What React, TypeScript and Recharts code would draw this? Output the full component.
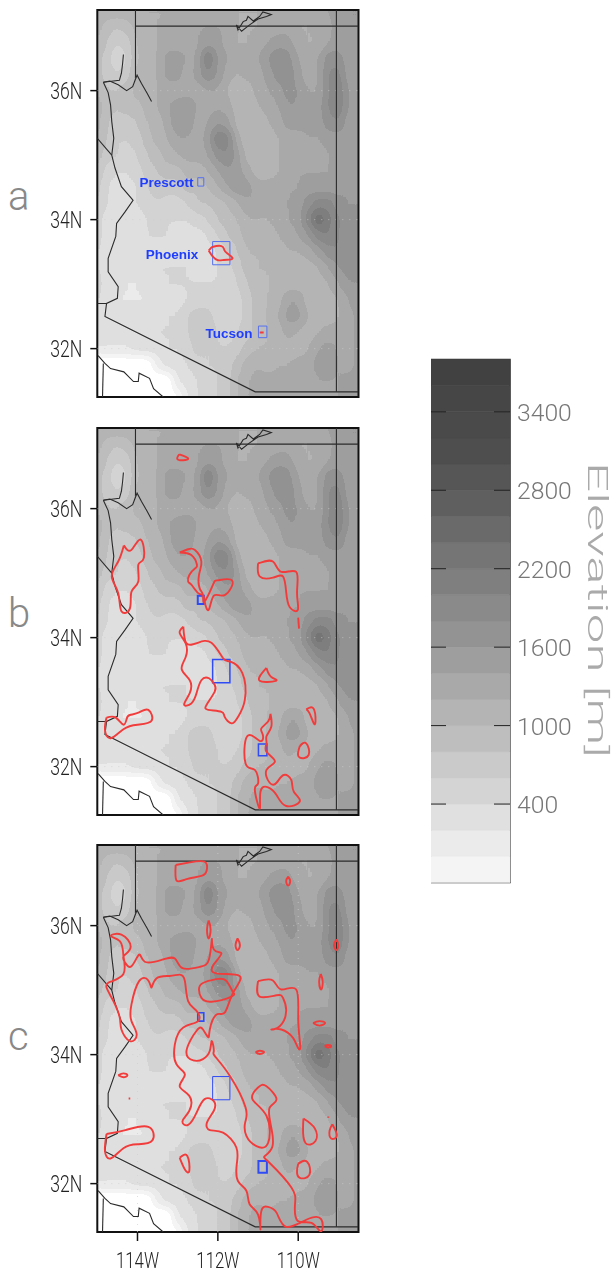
import { BarChart, Bar, ComposedChart, Line, Scatter, XAxis, YAxis, ReferenceLine, ReferenceArea, ReferenceDot } from 'recharts';

const lonNodes = [-115, -114.75, -114.5, -114.25, -114, -113.75, -113.5, -113.25, -113, -112.75, -112.5, -112.25, -112, -111.75, -111.5, -111.25, -111, -110.75, -110.5, -110.25, -110, -109.75, -109.5, -109.25, -109, -108.75, -108.5];
const latNodes = [37.25, 37, 36.75, 36.5, 36.25, 36, 35.75, 35.5, 35.25, 35, 34.75, 34.5, 34.25, 34, 33.75, 33.5, 33.25, 33, 32.75, 32.5, 32.25, 32, 31.75, 31.5, 31.25];

const elevationRows = [
  [12, 12, 12, 12, 12, 12, 12, 12, 13, 14, 14, 14, 14, 14, 12, 12, 12, 13, 13, 13, 13, 13, 13, 14, 16, 16, 16],
  [11, 9, 8, 9, 11, 12, 12, 13, 13, 14, 14, 14, 14, 14, 12, 12, 12, 13, 13, 13, 12, 12, 13, 13, 16, 16, 16],
  [10, 8, 6, 7, 10, 12, 12, 13, 13, 13, 14, 15, 15, 13, 12, 12, 13, 14, 15, 15, 13, 12, 12, 14, 15, 14, 15],
  [9, 7, 4, 6, 10, 11, 12, 15, 15, 14, 14, 21, 16, 14, 13, 13, 14, 16, 18, 17, 14, 13, 14, 17, 17, 15, 15],
  [9, 7, 6, 7, 11, 11, 12, 15, 15, 13, 15, 18, 16, 13, 12, 13, 13, 15, 17, 18, 15, 13, 14, 18, 19, 15, 15],
  [10, 8, 8, 9, 11, 12, 12, 13, 13, 13, 13, 14, 14, 12, 10, 11, 13, 14, 15, 17, 16, 14, 14, 18, 20, 16, 15],
  [11, 9, 8, 9, 9, 11, 12, 14, 15, 16, 14, 13, 14, 13, 11, 10, 12, 13, 14, 16, 16, 15, 15, 18, 20, 16, 15],
  [11, 8, 7, 7, 8, 10, 11, 13, 16, 16, 13, 14, 16, 15, 11, 10, 10, 12, 13, 15, 15, 15, 15, 17, 18, 15, 15],
  [10, 8, 6, 6, 7, 9, 11, 12, 14, 14, 13, 15, 20, 19, 13, 10, 10, 11, 12, 13, 13, 14, 14, 15, 15, 15, 16],
  [9, 7, 6, 5, 6, 8, 9, 11, 12, 13, 13, 14, 17, 18, 15, 11, 10, 11, 12, 13, 13, 13, 13, 14, 15, 16, 16],
  [8, 5, 4, 4, 5, 7, 8, 9, 9, 11, 11, 12, 14, 16, 15, 13, 11, 11, 12, 13, 14, 14, 14, 14, 15, 16, 16],
  [7, 4, 3, 3, 4, 6, 7, 7, 7, 9, 8, 10, 12, 14, 16, 15, 13, 13, 13, 14, 14, 15, 15, 15, 15, 16, 16],
  [6, 4, 3, 3, 4, 5, 6, 5, 5, 6, 8, 8, 9, 10, 12, 14, 14, 13, 14, 14, 15, 17, 19, 19, 17, 16, 16],
  [5, 3, 2, 3, 3, 4, 5, 4, 4, 4, 5, 6, 8, 9, 10, 12, 12, 12, 13, 14, 15, 19, 24, 21, 18, 17, 17],
  [5, 3, 3, 3, 3, 4, 4, 4, 3, 3, 3, 4, 6, 8, 9, 11, 11, 11, 12, 13, 14, 16, 19, 20, 18, 17, 17],
  [4, 3, 3, 3, 3, 3, 3, 3, 3, 3, 3, 3, 4, 6, 8, 10, 10, 10, 11, 12, 12, 13, 15, 17, 18, 17, 17],
  [4, 3, 3, 3, 3, 3, 4, 4, 4, 4, 3, 3, 4, 5, 7, 9, 10, 10, 10, 11, 11, 11, 12, 14, 16, 17, 17],
  [5, 3, 3, 2, 2, 3, 3, 4, 4, 4, 4, 4, 4, 4, 6, 8, 9, 10, 10, 11, 11, 11, 11, 12, 14, 16, 16],
  [4, 3, 2, 2, 2, 2, 3, 3, 3, 4, 5, 5, 4, 4, 5, 7, 9, 10, 11, 14, 14, 11, 11, 11, 12, 14, 16],
  [4, 3, 3, 3, 3, 3, 3, 4, 4, 6, 7, 7, 5, 5, 5, 7, 9, 10, 12, 15, 15, 12, 11, 11, 12, 13, 15],
  [4, 3, 3, 3, 4, 4, 4, 4, 4, 6, 7, 7, 6, 5, 6, 7, 9, 10, 11, 13, 12, 11, 12, 13, 13, 13, 15],
  [2, 2, 2, 2, 3, 3, 3, 4, 4, 5, 7, 6, 6, 6, 7, 9, 10, 10, 11, 11, 11, 12, 14, 15, 14, 13, 15],
  [-4, -4, -4, -4, -4, -4, 1, 3, 3, 4, 5, 6, 6, 7, 9, 11, 12, 11, 12, 12, 13, 13, 15, 16, 14, 13, 15],
  [-4, -4, -4, -4, -4, -4, -4, -4, 2, 3, 4, 5, 6, 7, 10, 12, 13, 13, 13, 13, 13, 13, 14, 14, 14, 15, 15],
  [-4, -4, -4, -4, -4, -4, -4, -4, -2, 2, 4, 5, 6, 7, 10, 12, 13, 13, 13, 13, 13, 14, 14, 14, 14, 15, 15],
];

const elevationCells = elevationRows.flatMap((row, r) =>
  row.map((hundreds, c) => ({ lon: lonNodes[c], lat: latNodes[r], elevation: hundreds * 100 })),
);

const latTicks = [36, 34, 32];
const lonTicks = [-114, -112, -110];

const stateLine1 = [[-114.05, 37.25], [-114.05, 36.2]];
const stateLine2 = [[-114.05, 37], [-108.5, 37]];
const stateLine3 = [[-109.05, 37.25], [-109.05, 31.33]];
const riverLower = [[-114.85, 36.13], [-114.73, 35.97], [-114.67, 35.78], [-114.64, 35.52], [-114.59, 35.26], [-114.64, 35.0], [-114.56, 34.8], [-114.4, 34.51], [-114.15, 34.33], [-114.11, 34.3], [-114.31, 34.12], [-114.52, 33.94], [-114.54, 33.74], [-114.73, 33.4], [-114.73, 33.19], [-114.48, 32.96], [-114.5, 32.78], [-114.77, 32.7], [-114.81, 32.5], [-114.56, 32.42], [-111.07, 31.33], [-108.5, 31.33]];
const riverUpper = [[-114.35, 36.56], [-114.37, 36.42], [-114.4, 36.27], [-114.45, 36.16], [-114.6, 36.15], [-114.85, 36.13]];
const lakeMead = [[-114.85, 36.13], [-114.69, 36.15], [-114.48, 36.09], [-114.27, 36.0], [-114.12, 36.06], [-114.06, 36.16], [-114.01, 36.24], [-113.9, 36.11], [-113.76, 35.96], [-113.65, 35.83]];
const lakePowell = [[-111.54, 37.02], [-111.5, 36.94], [-111.37, 37.07], [-111.29, 37.09], [-111.25, 37.15], [-111.12, 37.08], [-110.96, 37.15], [-110.88, 37.22], [-110.67, 37.18], [-110.79, 37.15], [-111.0, 37.11], [-111.21, 37.02], [-111.41, 36.92], [-111.54, 37.02]];
const californiaLine = [[-115, 35.26], [-114.64, 35.0]];
const mexicoLine = [[-115, 32.7], [-114.77, 32.7]];
const coastEast = [[-114.98, 31.89], [-114.81, 31.77], [-114.67, 31.69], [-114.34, 31.64], [-114.1, 31.49], [-113.98, 31.49], [-113.96, 31.62], [-113.7, 31.54], [-113.6, 31.38], [-113.36, 31.25]];
const coastWest = [[-114.85, 31.77], [-114.87, 31.25]];
const borderLines = [stateLine1, stateLine2, stateLine3, riverLower, riverUpper, lakeMead, lakePowell, californiaLine, mexicoLine, coastEast, coastWest];

const contoursA = [
  [[-112.23, 33.52], [-112.17, 33.56], [-112.12, 33.58], [-111.91, 33.59], [-111.84, 33.53], [-111.77, 33.48], [-111.64, 33.41], [-111.7, 33.38], [-111.85, 33.375], [-112.0, 33.37], [-112.13, 33.43], [-112.23, 33.52]],
  [[-110.96, 32.25], [-110.86, 32.25]],
];
const contoursB = [
  [[-112.96, 36.84], [-113.01, 36.77], [-112.86, 36.75], [-112.74, 36.78], [-112.96, 36.84]],
  [[-114.34, 35.43], [-114.15, 35.36], [-113.92, 35.52], [-113.84, 35.24], [-113.98, 35.13], [-113.98, 34.87], [-114.15, 34.71], [-114.19, 34.45], [-114.4, 34.41], [-114.48, 34.69], [-114.64, 34.95], [-114.48, 35.18], [-114.34, 35.43]],
  [[-112.95, 35.32], [-112.74, 35.37], [-112.57, 35.36], [-112.41, 35.18], [-112.47, 34.97], [-112.45, 34.76], [-112.37, 34.66], [-112.33, 34.56], [-112.12, 34.82], [-111.99, 34.89], [-111.64, 34.88], [-111.83, 34.66], [-112.1, 34.65], [-112.23, 34.43], [-112.33, 34.56], [-112.37, 34.66], [-112.49, 34.69], [-112.66, 34.82], [-112.74, 34.87], [-112.71, 34.97], [-112.57, 35.07], [-112.52, 35.13], [-112.66, 35.28], [-112.95, 35.32]],
  [[-111.0, 35.15], [-110.63, 35.18], [-110.42, 35.02], [-110.05, 35.02], [-110.03, 34.7], [-110.01, 34.43], [-110.21, 34.47], [-110.3, 34.71], [-110.38, 34.95], [-110.63, 34.93], [-110.96, 34.95], [-111.0, 35.15]],
  [[-110.0, 34.31], [-109.98, 34.14]],
  [[-112.86, 34.17], [-112.95, 34.07], [-112.8, 33.91], [-112.8, 33.7], [-112.9, 33.51], [-112.7, 33.34], [-112.7, 33.14], [-112.84, 32.96], [-112.66, 32.98], [-112.53, 33.14], [-112.41, 33.34], [-112.22, 33.37], [-112.08, 33.27], [-112.08, 33.16], [-112.28, 32.96], [-112.24, 32.88], [-111.91, 32.85], [-111.83, 32.77], [-111.66, 32.67], [-111.5, 32.77], [-111.33, 33.03], [-111.39, 33.45], [-111.7, 33.63], [-111.87, 33.68], [-112.16, 33.92], [-112.5, 33.92], [-112.78, 33.91], [-112.86, 34.17]],
  [[-110.79, 33.53], [-110.96, 33.33], [-110.56, 33.33], [-110.67, 33.39], [-110.79, 33.53]],
  [[-109.8, 32.89], [-109.62, 32.9], [-109.57, 32.7], [-109.62, 32.68], [-109.72, 32.83], [-109.8, 32.89]],
  [[-109.96, 32.32], [-109.8, 32.36], [-109.74, 32.18], [-109.96, 32.14], [-110.0, 32.23], [-109.96, 32.32]],
  [[-114.77, 32.76], [-114.54, 32.76], [-114.35, 32.65], [-114.27, 32.74], [-114.19, 32.8], [-113.96, 32.84], [-113.73, 32.88], [-113.65, 32.71], [-114.0, 32.65], [-114.35, 32.58], [-114.67, 32.44], [-114.81, 32.57], [-114.77, 32.76]],
  [[-110.69, 32.82], [-110.75, 32.7], [-110.92, 32.59], [-110.88, 32.49], [-110.96, 32.4], [-111.27, 32.47], [-111.31, 32.05], [-111.08, 31.95], [-111.0, 31.74], [-111.08, 31.64], [-110.96, 31.35], [-110.94, 31.61], [-110.75, 31.68], [-110.54, 31.56], [-110.3, 31.39], [-109.96, 31.46], [-110.11, 31.61], [-110.17, 31.79], [-110.36, 31.87], [-110.54, 31.75], [-110.71, 31.75], [-110.79, 31.95], [-110.58, 32.08], [-110.79, 32.23], [-110.79, 32.36], [-110.79, 32.47], [-110.67, 32.62], [-110.69, 32.82]],
];
const contoursC = [
  [[-113.05, 36.94], [-112.7, 36.98], [-112.33, 36.99], [-112.28, 36.85], [-112.41, 36.77], [-112.78, 36.72], [-113.03, 36.7], [-113.05, 36.94]],
  [[-110.25, 36.76], [-110.2, 36.69], [-110.25, 36.62], [-110.3, 36.69], [-110.25, 36.76]],
  [[-112.23, 36.08], [-112.18, 35.94], [-112.23, 35.8], [-112.27, 35.94], [-112.23, 36.08]],
  [[-111.51, 35.8], [-111.45, 35.7], [-111.51, 35.62], [-111.56, 35.7], [-111.51, 35.8]],
  [[-109.05, 35.79], [-109.0, 35.7], [-109.05, 35.62], [-109.11, 35.7], [-109.05, 35.79]],
  [[-109.44, 35.25], [-109.39, 35.13], [-109.43, 35.01], [-109.48, 35.13], [-109.44, 35.25]],
  [[-109.63, 34.49], [-109.47, 34.52], [-109.33, 34.49], [-109.47, 34.45], [-109.63, 34.49]],
  [[-109.34, 34.13], [-109.26, 34.15], [-109.18, 34.13], [-109.26, 34.11], [-109.34, 34.13]],
  [[-111.06, 34.04], [-110.96, 34.06], [-110.85, 34.04], [-110.96, 34.01], [-111.06, 34.04]],
  [[-114.48, 33.68], [-114.35, 33.71], [-114.25, 33.68], [-114.35, 33.65], [-114.48, 33.68]],
  [[-114.22, 33.32], [-114.18, 33.32]],
  [[-109.25, 33.04], [-109.25, 33.02]],
  [[-109.15, 32.92], [-109.04, 32.74], [-109.18, 32.7], [-109.22, 32.82], [-109.15, 32.92]],
  [[-109.87, 33.01], [-109.59, 32.86], [-109.57, 32.66], [-109.82, 32.63], [-109.88, 32.87], [-109.87, 33.01]],
  [[-110.0, 32.31], [-109.78, 32.34], [-109.72, 32.14], [-109.96, 32.09], [-110.03, 32.2], [-110.0, 32.31]],
  [[-112.95, 32.4], [-112.76, 32.43], [-112.71, 32.2], [-112.82, 32.22], [-112.95, 32.4]],
  [[-114.77, 32.77], [-114.3, 32.83], [-113.73, 32.88], [-113.63, 32.67], [-114.0, 32.61], [-114.35, 32.55], [-114.67, 32.39], [-114.81, 32.51], [-114.77, 32.77]],
  [[-111.62, 34.96], [-111.66, 34.9], [-112.16, 34.82], [-112.41, 34.88], [-112.47, 35.01], [-112.37, 35.11], [-112.04, 35.17], [-111.8, 35.15], [-111.62, 34.96]],
  [[-111.0, 35.14], [-110.63, 35.15], [-110.42, 35.01], [-110.05, 35.01], [-110.0, 34.55], [-109.95, 34.13], [-110.01, 34.11], [-110.13, 34.26], [-110.42, 34.39], [-110.67, 34.39], [-110.46, 34.44], [-110.3, 34.68], [-110.38, 34.88], [-110.54, 34.92], [-110.96, 34.9], [-111.0, 35.14]],
  [[-114.35, 35.53], [-114.44, 35.76], [-114.66, 35.84], [-114.4, 35.86], [-114.17, 35.67], [-114.34, 35.53], [-114.31, 35.43], [-114.15, 35.37], [-113.96, 35.55], [-113.82, 35.44], [-113.4, 35.47], [-113.07, 35.49], [-112.88, 35.34], [-112.45, 35.36], [-112.22, 35.48], [-112.15, 35.79], [-112.1, 35.63], [-111.91, 35.57], [-112.1, 35.4], [-112.04, 35.26], [-111.46, 35.22], [-111.62, 34.96], [-111.83, 34.65], [-112.04, 34.62], [-112.2, 34.39], [-112.24, 34.27], [-112.37, 34.39], [-112.53, 34.37], [-112.78, 34.06], [-112.61, 33.91], [-112.37, 33.93], [-112.2, 34.06], [-112.15, 34.21], [-112.1, 34.06], [-112.08, 33.98], [-111.7, 33.67], [-111.31, 33.18], [-111.32, 32.95], [-111.29, 32.74], [-111.04, 32.58], [-110.75, 32.63], [-110.79, 33.05], [-111.14, 33.31], [-111.0, 33.49], [-110.79, 33.51], [-110.54, 33.31], [-110.71, 33.18], [-110.68, 32.9], [-110.64, 32.58], [-110.83, 32.43], [-110.71, 32.32], [-110.17, 31.94], [-110.08, 31.68], [-110.01, 31.42], [-109.67, 31.39], [-109.43, 31.26], [-109.43, 31.45], [-109.8, 31.44], [-110.3, 31.33], [-110.54, 31.55], [-110.75, 31.64], [-110.92, 31.57], [-110.94, 31.29], [-111.0, 31.52], [-111.21, 31.68], [-111.29, 31.89], [-111.5, 32.04], [-111.53, 32.3], [-111.54, 32.56], [-111.87, 32.79], [-112.2, 32.83], [-112.27, 32.95], [-112.1, 33.13], [-112.1, 33.28], [-112.33, 33.31], [-112.53, 33.1], [-112.74, 32.91], [-112.88, 32.97], [-112.71, 33.13], [-112.71, 33.36], [-112.95, 33.51], [-112.82, 33.69], [-113.03, 33.85], [-113.07, 34.16], [-112.86, 34.42], [-112.49, 34.52], [-112.53, 34.68], [-112.74, 34.83], [-112.82, 35.14], [-112.95, 35.24], [-113.2, 35.22], [-113.53, 35.18], [-113.65, 35.04], [-113.73, 35.15], [-113.96, 35.14], [-114.15, 34.78], [-114.15, 34.52], [-114.02, 34.31], [-114.19, 34.21], [-114.4, 34.39], [-114.44, 34.57], [-114.6, 34.83], [-114.77, 35.04], [-114.67, 35.13], [-114.35, 35.25], [-114.35, 35.53]],
];

const cityNames = ['Prescott', 'Phoenix', 'Tucson'];
const cityLabelLon = [-113.28, -113.14, -111.72];
const cityLabelLat = [34.58, 33.47, 32.24];
const boxWest = [-112.5, -112.13, -110.99];
const boxEast = [-112.35, -111.7, -110.78];
const boxNorth = [34.65, 33.66, 32.35];
const boxSouth = [34.52, 33.3, 32.17];

const bandSizes = [-200, 200, 200, 200, 200, 200, 200, 200, 200, 200, 200, 200, 200, 200, 200, 200, 200, 200, 200, 200];
const bandColors = ['#f4f4f4', '#ebebeb', '#e0e0e0', '#d4d4d4', '#cacaca', '#bebebe', '#b4b4b4', '#a9a9a9', '#9e9e9e', '#939393', '#8a8a8a', '#7f7f7f', '#757575', '#6a6a6a', '#5f5f5f', '#565656', '#4e4e4e', '#4a4a4a', '#464646', '#414141'];
const barTicks = [400, 1000, 1600, 2200, 2800, 3400];
const barRow = Object.fromEntries([['name', 'elevation'], ...bandSizes.map((v, i) => [`band${i}`, v])]);

const FONT = 'Roboto, "DejaVu Sans", sans-serif';
const CELL_W = 10.8;
const CELL_H = 16.8;
const LON_RANGE: [number, number] = [-115, -108.5];
const LAT_RANGE: [number, number] = [31.25, 37.25];

// map input gray -> band colour: 21 steps from -400 m to 3800 m
const tableValues = ['#ffffff', ...bandColors].map((c) => (parseInt(c.slice(1, 3), 16) / 255).toFixed(3)).join(' ');

const ElevationCell = ({ cx, cy, payload }: any) => {
  const level = Math.round((((payload.elevation + 400) / 4200) * 255));
  return <rect x={cx - CELL_W / 2} y={cy - CELL_H / 2} width={CELL_W} height={CELL_H} fill={`rgb(${level},${level},${level})`} />;
};

const LatTick = ({ x, y, payload }: any) => (
  <text x={x} y={y + 8} textAnchor="end" fontFamily={FONT} fontWeight={300} fontSize={23} fill="#222" textLength={32} lengthAdjust="spacingAndGlyphs">
    {`${payload.value}N`}
  </text>
);

const LonTick = ({ x, y, payload }: any) => (
  <text x={x} y={y + 24.5} textAnchor="middle" fontFamily={FONT} fontWeight={300} fontSize={22} fill="#222" textLength={43} lengthAdjust="spacingAndGlyphs">
    {`${Math.abs(payload.value)}W`}
  </text>
);

const BarTick = ({ x, y, payload }: any) => {
  const digits = String(payload.value).length;
  return (
    <g>
      <line x1={x - 80} x2={x - 64} y1={y} y2={y} stroke="#222" strokeWidth={1} />
      <line x1={x - 16} x2={x} y1={y} y2={y} stroke="#222" strokeWidth={1} />
      <text x={x + 7} y={y + 9} fontFamily={FONT} fontWeight={300} fontSize={24} fill="#777" textLength={digits * 13.7} lengthAdjust="spacingAndGlyphs">
        {payload.value}
      </text>
    </g>
  );
};

const ElevationTitle = ({ viewBox }: any) => {
  const cx = viewBox.x + 78;
  const cy = 260;
  return (
    <text x={cx} y={cy} transform={`rotate(90 ${cx} ${cy})`} textAnchor="middle" fontFamily={FONT} fontWeight={300} fontSize={27} fill="#aaa" textLength={296} lengthAdjust="spacingAndGlyphs">
      Elevation [m]
    </text>
  );
};

const toPoints = (path: number[][]) => path.map(([lon, lat]) => ({ lon, lat }));

type PanelProps = {
  top: number;
  contours: number[][][];
  showCities?: boolean;
  showLonAxis?: boolean;
  boxWidths: number[];
  boxColor: string;
};

const MapPanel = ({ top, contours, showCities, showLonAxis, boxWidths, boxColor }: PanelProps) => (
  <div style={{ position: 'absolute', left: 0, top: top - 8, filter: 'blur(0.35px)' }}>
    <ComposedChart width={372} height={showLonAxis ? 435 : 400} margin={{ top: 8, right: 13.5, bottom: showLonAxis ? 0 : 5, left: 0 }}>
      <XAxis dataKey="lon" type="number" domain={LON_RANGE} ticks={lonTicks} hide={!showLonAxis} allowDataOverflow interval={0} height={40} tickSize={9} tick={<LonTick />} axisLine={false} tickLine={{ stroke: '#111', strokeWidth: 1.5 }} />
      <YAxis dataKey="lat" type="number" domain={LAT_RANGE} ticks={latTicks} allowDataOverflow interval={0} width={97.3} tickSize={7} tickMargin={8} tick={<LatTick />} axisLine={false} tickLine={{ stroke: '#111', strokeWidth: 1.5 }} />
      <Scatter className="elevation-field" data={elevationCells} shape={<ElevationCell />} isAnimationActive={false} legendType="none" zIndex={-200} />
      {latTicks.map((lat) => (
        <ReferenceLine key={lat} y={lat} stroke="#cfcfcf" strokeOpacity={0.7} strokeDasharray="1 6" />
      ))}
      {showLonAxis && lonTicks.map((lon) => <ReferenceLine key={lon} x={lon} stroke="#cfcfcf" strokeOpacity={0.7} strokeDasharray="1 6" />)}
      {borderLines.map((path, i) => (
        <Line key={`border${i}`} data={toPoints(path)} dataKey="lat" stroke="#2a2a2a" strokeWidth={1.1} dot={false} isAnimationActive={false} legendType="none" />
      ))}
      {contours.map((path, i) => (
        <Line key={`contour${i}`} type="natural" data={toPoints(path)} dataKey="lat" stroke="#f23c3c" strokeWidth={1.9} strokeLinejoin="round" dot={false} isAnimationActive={false} legendType="none" />
      ))}
      {cityNames.map((name, i) => (
        <ReferenceArea key={name} x1={boxWest[i]} x2={boxEast[i]} y1={boxSouth[i]} y2={boxNorth[i]} fill="none" fillOpacity={0} stroke={boxColor} strokeWidth={boxWidths[i]} />
      ))}
      {showCities &&
        cityNames.map((name, i) => (
          <ReferenceDot
            key={`label${name}`}
            x={cityLabelLon[i]}
            y={cityLabelLat[i]}
            r={0}
            stroke="none"
            label={{ value: name, position: 'center', fill: '#1f3dff', fontSize: 13.5, fontWeight: 700, fontFamily: '"Liberation Sans", sans-serif' }}
          />
        ))}
      <ReferenceArea x1={LON_RANGE[0]} x2={LON_RANGE[1]} y1={LAT_RANGE[0]} y2={LAT_RANGE[1]} fill="none" fillOpacity={0} stroke="#111" strokeWidth={2} />
    </ComposedChart>
  </div>
);

const ColorBar = () => (
  <div style={{ position: 'absolute', left: 431, top: 350, filter: 'blur(0.35px)' }}>
    <BarChart width={183} height={540} data={[barRow]} stackOffset="sign" barCategoryGap={0} margin={{ top: 9.5, right: 0, bottom: 7.5, left: 0 }}>
      <XAxis dataKey="name" hide />
      <YAxis orientation="right" type="number" domain={[-200, 3800]} ticks={barTicks} interval={0} width={104} tickSize={0} tickMargin={0} axisLine={false} tick={<BarTick />} label={{ content: <ElevationTitle /> }} />
      {bandSizes.map((_, i) => (
        <Bar key={i} dataKey={`band${i}`} stackId="bands" fill={bandColors[i]} stroke={bandColors[i]} strokeWidth={0.6} isAnimationActive={false} legendType="none" />
      ))}
      <ReferenceArea y1={-200} y2={3800} fill="none" fillOpacity={0} stroke="#333" strokeWidth={1.5} />
    </BarChart>
  </div>
);

const PanelLetter = ({ text, top }: { text: string; top: number }) => (
  <div style={{ position: 'absolute', left: 8, top, fontFamily: FONT, fontWeight: 300, fontSize: 40, lineHeight: '40px', color: '#888' }}>{text}</div>
);

export default function App() {
  return (
    <div style={{ position: 'absolute', left: 0, top: 0, width: 614, height: 1272, background: '#fff', overflow: 'hidden' }}>
      <style>{`.elevation-field { filter: url(#bands); clip-path: url(#plotClip); }`}</style>
      <svg width={0} height={0} style={{ position: 'absolute' }}>
        <defs>
          <filter id="bands" filterUnits="userSpaceOnUse" x={0} y={0} width={500} height={500} colorInterpolationFilters="sRGB">
            <feGaussianBlur stdDeviation="4 5.5" />
            <feComponentTransfer>
              <feFuncR type="discrete" tableValues={tableValues} />
              <feFuncG type="discrete" tableValues={tableValues} />
              <feFuncB type="discrete" tableValues={tableValues} />
              <feFuncA type="linear" slope={50} />
            </feComponentTransfer>
          </filter>
          <clipPath id="plotClip">
            <rect x={97.3} y={8} width={261.2} height={387} />
          </clipPath>
        </defs>
      </svg>
      <MapPanel top={10} contours={contoursA} showCities boxWidths={[1, 1, 1]} boxColor="#5570f0" />
      <MapPanel top={428} contours={contoursB} boxWidths={[2, 1.5, 1.5]} boxColor="#2f4bf5" />
      <MapPanel top={844.5} contours={contoursC} showLonAxis boxWidths={[1.6, 1, 2]} boxColor="#2f4bf5" />
      <ColorBar />
      <PanelLetter text="a" top={177} />
      <PanelLetter text="b" top={594} />
      <PanelLetter text="c" top={1017} />
    </div>
  );
}
